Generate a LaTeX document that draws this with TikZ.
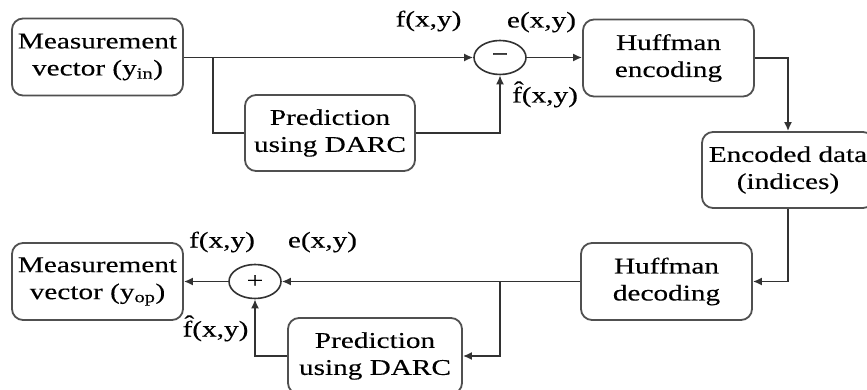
\documentclass[tikz,border=0pt]{standalone}
\usepackage{fontspec}
\setmainfont{Liberation Serif}[FakeStretch=1.3, FakeBold=0.25]
\usetikzlibrary{shapes.geometric,arrows.meta}

\definecolor{wire}{RGB}{50,50,50}
\definecolor{edge}{RGB}{80,80,80}

\tikzset{
  blockbox/.style={draw=edge, line width=1.8pt, rounded corners=11pt,
    align=center, inner sep=0pt, minimum width=171pt, minimum height=77pt},
  junction/.style={draw=wire, line width=1.6pt, ellipse, inner sep=0pt,
    minimum width=52pt, minimum height=34pt},
  sig/.style={inner sep=0pt, text height=0.75em, text depth=0.25em},
  conn/.style={draw=wire, line width=1.7pt},
  flow/.style={conn, -{Latex[length=9pt,width=8pt]}}
}

\newcommand{\fhat}{\^{f}}

\begin{document}
\begin{tikzpicture}[x=1pt, y=-1pt, font=\fontsize{22.5}{27}\selectfont]
  \useasboundingbox (0,0) rectangle (867,390);
  \clip (0,0) rectangle (867,390);

  % encoder path
  \node[blockbox] (min) at (97.5,57) {Measurement\\vector (y\textsubscript{in})};
  \node[blockbox, minimum width=170pt, minimum height=76pt] (pred1) at (330,133) {Prediction\\using DARC};
  \node[junction] (sub) at (500,57.5) {−};
  \node[blockbox] (enc) at (668.5,58) {Huffman\\encoding};
  \node[blockbox, minimum width=172pt, minimum height=76pt] (data) at (788,170) {Encoded data\\(indices)};

  % decoder path
  \node[blockbox] (dec) at (666.5,281.5) {Huffman\\decoding};
  \node[junction] (add) at (255,281.5) {+};
  \node[blockbox] (mout) at (97.5,281.5) {Measurement\\vector (y\textsubscript{op})};
  \node[blockbox, minimum width=174pt, minimum height=76pt] (pred2) at (375,356) {Prediction\\using DARC};

  % signal labels
  \node[sig] (lf1) at (428.5,24) {f(x,y)};
  \node[sig] (le1) at (541.5,25) {e(x,y)};
  \node[sig] (lh1) at (545,100) {\fhat(x,y)};
  \node[sig] (lf2) at (222,245) {f(x,y)};
  \node[sig] (le2) at (322.5,245) {e(x,y)};
  \node[sig] (lh2) at (215.5,334) {\fhat(x,y)};

  % encoder connectors
  \coordinate (tapA) at (213,57.5);
  \draw[flow] (min.east |- sub.west) -- (sub.west);
  \draw[conn] (tapA) |- (pred1.west);
  \draw[flow] (pred1.east) -| (sub.south);
  \draw[flow] (sub.east) -- (enc.west |- sub.east);
  \draw[flow] (enc.east) -| (data.north);
  \draw[flow] (data.south) |- (dec.east);

  % decoder connectors
  \coordinate (tapB) at (500,281.5);
  \draw[flow] (dec.west) -- (add.east);
  \draw[flow] (tapB) |- (pred2.east);
  \draw[flow] (pred2.west) -| (add.south);
  \draw[flow] (add.west) -- (mout.east);
\end{tikzpicture}
\end{document}
